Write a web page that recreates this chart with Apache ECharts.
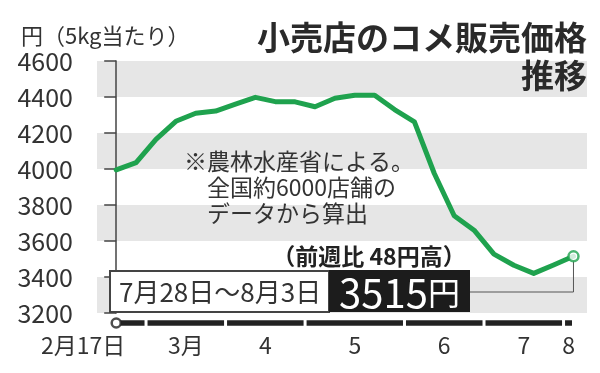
<!DOCTYPE html>
<html><head><meta charset="utf-8">
<script src="https://cdn.jsdelivr.net/npm/echarts@6/dist/echarts.min.js"></script>
<style>html,body{margin:0;padding:0;background:#fff}#c{width:600px;height:373px}</style>
</head><body><div id="c"></div>
<script>
// ---- data ----
const weeks = ['2/17','2/24','3/3','3/10','3/17','3/24','3/31','4/7','4/14','4/21','4/28','5/5','5/12','5/19','5/26','6/2','6/9','6/16','6/23','6/30','7/7','7/14','7/21','7/28'];
const prices = [3995, 4035, 4165, 4265, 4310, 4322, 4360, 4398, 4374, 4373, 4346, 4393, 4410, 4410, 4330, 4262, 3975, 3740, 3660, 3527, 3465, 3420, 3467, 3515];
const yMin = 3200, yMax = 4600, yStep = 200;
const monthLabels = ['2月17日', '3月', '4', '5', '6', '7', '8'];
const monthLabelPos = [0, 3.5, 7.5, 12, 16.5, 20.5, 22.75];
const monthSegments = [[0, 1.5], [1.5, 5.5], [5.5, 9.5], [9.5, 14.5], [14.5, 18.5], [18.5, 22.5], [22.5, 23]];
const periodLabel = '7月28日～8月3日';
const unitLabel = '円（5kg当たり）';
const titleLines = ['小売店のコメ販売価格', '推移'];
const noteText = '※農林水産省による。\n　全国約6000店舗の\n　データから算出';

const FONT = '"Noto Sans CJK JP", "Noto Sans", sans-serif';
const lineData = weeks.map((w, i) => [i, prices[i]]);
const lastIdx = prices.length - 1;
const lastVal = prices[lastIdx];
const diff = lastVal - prices[lastIdx - 1];

const xMin = -0.966, xMax = 23.68;

const chart = echarts.init(document.getElementById('c'), null, {renderer: 'canvas'});
chart.setOption({
  animation: false,
  backgroundColor: '#fff',
  textStyle: {fontFamily: FONT},
  title: [
    {text: unitLabel, left: 16, top: 20, textStyle: {fontSize: 22, fontWeight: 'normal', color: '#333', fontFamily: FONT}},
    {text: noteText, left: 179, top: 143, textStyle: {fontSize: 23, lineHeight: 26, fontWeight: 'normal', color: '#333', fontFamily: FONT}}
  ],
  grid: [
    {left: 97, right: 13, top: 61, bottom: 60},
    {left: 97, right: 13, top: 318, height: 10}
  ],
  xAxis: [
    {type: 'value', gridIndex: 0, min: xMin, max: xMax, show: false},
    {type: 'value', gridIndex: 1, min: xMin, max: xMax,
      axisLine: {show: false}, axisTick: {show: false}, splitLine: {show: false},
      axisLabel: {
        customValues: monthLabelPos, margin: 6, fontSize: 23, color: '#333', fontFamily: FONT,
        formatter: function (v) {
          const k = monthLabelPos.indexOf(v);
          if (k < 0) return '';
          return k === 0 ? '{f|' + monthLabels[k] + '}' : monthLabels[k];
        },
        rich: {f: {fontSize: 23, color: '#333', fontFamily: FONT, padding: [0, 66, 0, 0]}}
      }
    }
  ],
  yAxis: [
    {type: 'value', gridIndex: 0, min: yMin, max: yMax, interval: yStep, offset: 3,
      axisLine: {show: true, lineStyle: {color: '#444', width: 1.5}},
      axisTick: {show: true, length: 12, lineStyle: {color: '#444', width: 1.5}},
      axisLabel: {margin: 21, fontSize: 25, color: '#333', fontFamily: FONT, formatter: function (v) { return String(v); }},
      splitLine: {show: false},
      splitArea: {show: true, areaStyle: {color: ['#e6e6e6', '#ffffff']}}
    },
    {type: 'value', gridIndex: 1, min: 0, max: 1, show: false}
  ],
  series: [
    {type: 'line', xAxisIndex: 0, yAxisIndex: 0, data: lineData, symbol: 'none',
      lineStyle: {color: '#1fa24e', width: 5, join: 'round', cap: 'round'}, z: 3},
    {type: 'scatter', xAxisIndex: 0, yAxisIndex: 0, data: [[lastIdx, lastVal]], symbol: 'circle', symbolSize: 10,
      itemStyle: {color: '#fff', borderColor: '#1fa24e', borderWidth: 2.5}, z: 5},
    {type: 'custom', xAxisIndex: 1, yAxisIndex: 1, data: monthSegments, encode: {x: [0, 1]},
      renderItem: function (params, api) {
        const s = api.coord([api.value(0), 0.5]);
        const e = api.coord([api.value(1), 0.5]);
        const x0 = s[0] + (params.dataIndex === 0 ? 4 : 1.5);
        const x1 = e[0] - 1.5;
        return {type: 'rect', shape: {x: x0, y: s[1] - 2.75, width: x1 - x0, height: 5.5}, style: {fill: '#222'}};
      }
    },
    {type: 'scatter', xAxisIndex: 1, yAxisIndex: 1, data: [[0, 0.5]], symbol: 'circle', symbolSize: 9,
      itemStyle: {color: '#fff', borderColor: '#222', borderWidth: 2.5}, z: 5}
  ]
});

const p = chart.convertToPixel({gridIndex: 0}, [lastIdx, lastVal]);
const boxTop = 271, boxBot = 312, boxL = 110, boxMid = 329, boxR = 470;
chart.setOption({
  graphic: [
    {type: 'text', z: 11, x: 587, y: 37, style: {text: titleLines[0], fill: '#2a2a2a', font: 'bold 33px ' + FONT, align: 'right', verticalAlign: 'middle'}},
    {type: 'text', z: 11, x: 587, y: 75, style: {text: titleLines[1], fill: '#2a2a2a', font: 'bold 33px ' + FONT, align: 'right', verticalAlign: 'middle'}},
    {type: 'polyline', z: 1, shape: {points: [[p[0], p[1] + 5], [p[0], 292], [boxR, 292]]}, style: {stroke: '#555', lineWidth: 1, fill: null}},
    {type: 'rect', z: 10, shape: {x: boxL, y: boxTop, width: boxMid - boxL, height: boxBot - boxTop}, style: {fill: '#fff', stroke: '#444', lineWidth: 2}},
    {type: 'text', z: 11, x: boxL + 9, y: (boxTop + boxBot) / 2 + 1, style: {text: periodLabel, fill: '#333', font: '26px ' + FONT, align: 'left', verticalAlign: 'middle'}},
    {type: 'rect', z: 10, shape: {x: boxMid, y: boxTop - 1, width: boxR - boxMid, height: boxBot - boxTop + 1}, style: {fill: '#1c1c1c'}},
    {type: 'text', z: 11, x: (boxMid + boxR) / 2, y: (boxTop + boxBot) / 2 + 1,
      style: {text: '{a|' + lastVal + '}{b|円}', align: 'center', verticalAlign: 'middle',
        rich: {a: {fontSize: 40, fill: '#fff', fontFamily: FONT}, b: {fontSize: 32, fill: '#fff', fontFamily: FONT}}}},
    {type: 'text', z: 11, x: 369, y: 256, style: {text: '（前週比 ' + diff + '円高）', fill: '#222', font: 'bold 23px ' + FONT, align: 'center', verticalAlign: 'middle'}}
  ]
});
</script>
</body></html>
